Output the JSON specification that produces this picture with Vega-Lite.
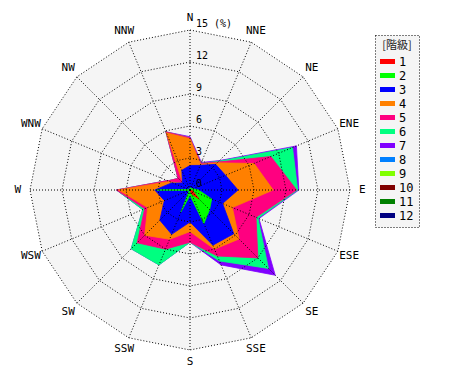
{
  "$schema": "https://vega.github.io/schema/vega-lite/v6.json",
  "width": 470,
  "height": 380,
  "autosize": "none",
  "padding": 0,
  "background": "white",
  "config": {
    "view": {"stroke": null},
    "legend": {
      "orient": "none", "legendX": 375, "legendY": 35, "direction": "vertical",
      "titleFont": "Noto Sans CJK JP", "titleFontSize": 11, "titleFontWeight": "normal", "titleColor": "#222222",
      "titleAnchor": "middle", "titlePadding": 3,
      "labelFont": "DejaVu Sans Mono", "labelFontSize": 12, "labelColor": "#000000", "labelOffset": 4,
      "symbolType": "M-1,-0.33H1V0.33H-1Z", "symbolSize": 225, "symbolStrokeWidth": 0, "symbolOffset": 0,
      "rowPadding": 0, "padding": 5,
      "fillColor": "#f5f5f5", "strokeColor": "#000000", "strokeDash": [1, 2]
    }
  },
  "datasets": {
    "dirs": [
      {"d": 0, "lab": "N", "ring": [0, 3, 6, 9, 12, 15]},
      {"d": 1, "lab": "NNE", "ring": [0, 3, 6, 9, 12, 15]},
      {"d": 2, "lab": "NE", "ring": [0, 3, 6, 9, 12, 15]},
      {"d": 3, "lab": "ENE", "ring": [0, 3, 6, 9, 12, 15]},
      {"d": 4, "lab": "E", "ring": [0, 3, 6, 9, 12, 15]},
      {"d": 5, "lab": "ESE", "ring": [0, 3, 6, 9, 12, 15]},
      {"d": 6, "lab": "SE", "ring": [0, 3, 6, 9, 12, 15]},
      {"d": 7, "lab": "SSE", "ring": [0, 3, 6, 9, 12, 15]},
      {"d": 8, "lab": "S", "ring": [0, 3, 6, 9, 12, 15]},
      {"d": 9, "lab": "SSW", "ring": [0, 3, 6, 9, 12, 15]},
      {"d": 10, "lab": "SW", "ring": [0, 3, 6, 9, 12, 15]},
      {"d": 11, "lab": "WSW", "ring": [0, 3, 6, 9, 12, 15]},
      {"d": 12, "lab": "W", "ring": [0, 3, 6, 9, 12, 15]},
      {"d": 13, "lab": "WNW", "ring": [0, 3, 6, 9, 12, 15]},
      {"d": 14, "lab": "NW", "ring": [0, 3, 6, 9, 12, 15]},
      {"d": 15, "lab": "NNW", "ring": [0, 3, 6, 9, 12, 15]},
      {"d": 16, "lab": "", "ring": [0, 3, 6, 9, 12, 15]}
    ],
    "freq": [
      {"d":0,"c":1,"v":0},{"d":0,"c":2,"v":0.2},{"d":0,"c":3,"v":2.1},{"d":0,"c":4,"v":2.5},{"d":0,"c":5,"v":0.1},{"d":0,"c":6,"v":0},{"d":0,"c":7,"v":0.1},
      {"d":1,"c":1,"v":0},{"d":1,"c":2,"v":0.2},{"d":1,"c":3,"v":2.3},{"d":1,"c":4,"v":0.1},{"d":1,"c":5,"v":0.1},{"d":1,"c":6,"v":0},{"d":1,"c":7,"v":0.1},
      {"d":2,"c":1,"v":0},{"d":2,"c":2,"v":0.2},{"d":2,"c":3,"v":3.2},{"d":2,"c":4,"v":0.2},{"d":2,"c":5,"v":0.1},{"d":2,"c":6,"v":0.1},{"d":2,"c":7,"v":0.1},
      {"d":3,"c":1,"v":0},{"d":3,"c":2,"v":0.3},{"d":3,"c":3,"v":3.3},{"d":3,"c":4,"v":2.9},{"d":3,"c":5,"v":1.7},{"d":3,"c":6,"v":2.2},{"d":3,"c":7,"v":0.4},
      {"d":4,"c":1,"v":0.1},{"d":4,"c":2,"v":0.7},{"d":4,"c":3,"v":3.7},{"d":4,"c":4,"v":3.3},{"d":4,"c":5,"v":2.2},{"d":4,"c":6,"v":0.1},{"d":4,"c":7,"v":0.1},
      {"d":5,"c":1,"v":0.3},{"d":5,"c":2,"v":1.9},{"d":5,"c":3,"v":1.1},{"d":5,"c":4,"v":1.0},{"d":5,"c":5,"v":2.4},{"d":5,"c":6,"v":0.2},{"d":5,"c":7,"v":0.1},
      {"d":6,"c":1,"v":1.2},{"d":6,"c":2,"v":1.4},{"d":6,"c":3,"v":3.2},{"d":6,"c":4,"v":0.7},{"d":6,"c":5,"v":2.5},{"d":6,"c":6,"v":1.4},{"d":6,"c":7,"v":0.9},
      {"d":7,"c":1,"v":0.4},{"d":7,"c":2,"v":3.0},{"d":7,"c":3,"v":2.2},{"d":7,"c":4,"v":0.4},{"d":7,"c":5,"v":0.7},{"d":7,"c":6,"v":0.5},{"d":7,"c":7,"v":0.4},
      {"d":8,"c":1,"v":0},{"d":8,"c":2,"v":0.5},{"d":8,"c":3,"v":2.5},{"d":8,"c":4,"v":0.9},{"d":8,"c":5,"v":1.0},{"d":8,"c":6,"v":0},{"d":8,"c":7,"v":0},
      {"d":9,"c":1,"v":0},{"d":9,"c":2,"v":2.2},{"d":9,"c":3,"v":2.3},{"d":9,"c":4,"v":0.5},{"d":9,"c":5,"v":1.0},{"d":9,"c":6,"v":1.6},{"d":9,"c":7,"v":0},
      {"d":10,"c":1,"v":0},{"d":10,"c":2,"v":0.1},{"d":10,"c":3,"v":3.9},{"d":10,"c":4,"v":2.0},{"d":10,"c":5,"v":1.0},{"d":10,"c":6,"v":0.8},{"d":10,"c":7,"v":0},
      {"d":11,"c":1,"v":0},{"d":11,"c":2,"v":0.1},{"d":11,"c":3,"v":2.5},{"d":11,"c":4,"v":1.7},{"d":11,"c":5,"v":0.3},{"d":11,"c":6,"v":0.2},{"d":11,"c":7,"v":0},
      {"d":12,"c":1,"v":0},{"d":12,"c":2,"v":3.1},{"d":12,"c":3,"v":0.2},{"d":12,"c":4,"v":3.4},{"d":12,"c":5,"v":0.2},{"d":12,"c":6,"v":0},{"d":12,"c":7,"v":0},
      {"d":13,"c":1,"v":0},{"d":13,"c":2,"v":0.1},{"d":13,"c":3,"v":1.7},{"d":13,"c":4,"v":0.3},{"d":13,"c":5,"v":0.2},{"d":13,"c":6,"v":0},{"d":13,"c":7,"v":0},
      {"d":14,"c":1,"v":0},{"d":14,"c":2,"v":0.1},{"d":14,"c":3,"v":0.9},{"d":14,"c":4,"v":0},{"d":14,"c":5,"v":0.6},{"d":14,"c":6,"v":0},{"d":14,"c":7,"v":0},
      {"d":15,"c":1,"v":0},{"d":15,"c":2,"v":0.1},{"d":15,"c":3,"v":1.9},{"d":15,"c":4,"v":3.8},{"d":15,"c":5,"v":0.1},{"d":15,"c":6,"v":0},{"d":15,"c":7,"v":0}
    ]
  },
  "layer": [
    {
      "data": {"name": "dirs"},
      "transform": [
        {"flatten": ["ring"]},
        {"filter": "datum.ring == 15"},
        {"calculate": "datum.ring*sin(datum.d*PI/8)", "as": "x"},
        {"calculate": "datum.ring*cos(datum.d*PI/8)", "as": "y"}
      ],
      "mark": {"type": "line", "filled": true, "fill": "#f5f5f5", "strokeWidth": 0},
      "encoding": {
        "x": {"field": "x", "type": "quantitative", "scale": {"domain": [-17.8125, 26.25], "nice": false, "zero": false}, "axis": null},
        "y": {"field": "y", "type": "quantitative", "scale": {"domain": [-17.8125, 17.8125], "nice": false, "zero": false}, "axis": null},
        "order": {"field": "d"}
      }
    },
    {
      "data": {"name": "freq"},
      "transform": [
        {"window": [{"op": "sum", "field": "v", "as": "cum"}], "groupby": ["d"], "sort": [{"field": "c"}], "frame": [null, 0]},
        {"calculate": "datum.cum*sin(datum.d*PI/8)", "as": "x"},
        {"calculate": "datum.cum*cos(datum.d*PI/8)", "as": "y"},
        {"calculate": "(datum.d + 2) % 16", "as": "o"}
      ],
      "encoding": {
        "x": {"field": "x", "type": "quantitative", "scale": {"domain": [-17.8125, 26.25], "nice": false, "zero": false}, "axis": null},
        "y": {"field": "y", "type": "quantitative", "scale": {"domain": [-17.8125, 17.8125], "nice": false, "zero": false}, "axis": null},
        "order": {"field": "o"},
        "color": {
          "field": "c", "type": "nominal",
          "scale": {"domain": [1,2,3,4,5,6,7,8,9,10,11,12], "range": ["#ff0000","#00ff00","#0000ff","#ff8000","#ff0080","#00ff80","#8000ff","#0080ff","#80ff00","#800000","#008000","#000080"]},
          "legend": {"title": "\u00a0\u00a0\u00a0\u00a0\u00a0[階級]\u00a0\u00a0\u00a0\u00a0\u00a0"}
        },
        "stroke": {
          "field": "c", "type": "nominal",
          "scale": {"domain": [1,2,3,4,5,6,7,8,9,10,11,12], "range": ["#ff0000","#00ff00","#0000ff","#ff8000","#ff0080","#00ff80","#8000ff","#0080ff","#80ff00","#800000","#008000","#000080"]},
          "legend": null
        }
      },
      "layer": [
        {"transform": [{"filter": "datum.c == 7"}], "mark": {"type": "line", "filled": true, "strokeWidth": 0.8}},
        {"transform": [{"filter": "datum.c == 6"}], "mark": {"type": "line", "filled": true, "strokeWidth": 0.8}},
        {"transform": [{"filter": "datum.c == 5"}], "mark": {"type": "line", "filled": true, "strokeWidth": 0.8}},
        {"transform": [{"filter": "datum.c == 4"}], "mark": {"type": "line", "filled": true, "strokeWidth": 0.8}},
        {"transform": [{"filter": "datum.c == 3"}], "mark": {"type": "line", "filled": true, "strokeWidth": 0.8}},
        {"transform": [{"filter": "datum.c == 2"}], "mark": {"type": "line", "filled": true, "strokeWidth": 0.8}},
        {"transform": [{"filter": "datum.c == 1"}], "mark": {"type": "line", "filled": true, "strokeWidth": 0.8}}
      ]
    },
    {
      "data": {"name": "dirs"},
      "transform": [
        {"flatten": ["ring"]},
        {"calculate": "datum.ring*sin(datum.d*PI/8)", "as": "x"},
        {"calculate": "datum.ring*cos(datum.d*PI/8)", "as": "y"},
        {"calculate": "16.15*sin(datum.d*PI/8)", "as": "lx"},
        {"calculate": "16.15*cos(datum.d*PI/8)", "as": "ly"},
        {"calculate": "datum.ring == 15 ? '15 (%)' : '' + datum.ring", "as": "rl"}
      ],
      "layer": [
        {
          "transform": [{"filter": "datum.ring > 0"}],
          "mark": {"type": "line", "stroke": "#000000", "strokeWidth": 1, "strokeDash": [1, 2]},
          "encoding": {
            "x": {"field": "x", "type": "quantitative", "scale": {"domain": [-17.8125, 26.25], "nice": false, "zero": false}, "axis": null},
            "y": {"field": "y", "type": "quantitative", "scale": {"domain": [-17.8125, 17.8125], "nice": false, "zero": false}, "axis": null},
            "detail": {"field": "ring", "type": "nominal"},
            "order": {"field": "d"}
          }
        },
        {
          "transform": [{"filter": "datum.ring == 15 && datum.d < 16"}],
          "mark": {"type": "rule", "stroke": "#000000", "strokeWidth": 1, "strokeDash": [1, 2]},
          "encoding": {
            "x": {"field": "x", "type": "quantitative", "scale": {"domain": [-17.8125, 26.25], "nice": false, "zero": false}, "axis": null},
            "y": {"field": "y", "type": "quantitative", "scale": {"domain": [-17.8125, 17.8125], "nice": false, "zero": false}, "axis": null},
            "x2": {"datum": 0},
            "y2": {"datum": 0}
          }
        },
        {
          "transform": [{"filter": "datum.ring == 15 && datum.d < 16"}],
          "mark": {"type": "text", "font": "DejaVu Sans Mono", "fontSize": 11, "color": "#000000", "align": "center", "baseline": "middle"},
          "encoding": {
            "x": {"field": "lx", "type": "quantitative", "scale": {"domain": [-17.8125, 26.25], "nice": false, "zero": false}, "axis": null},
            "y": {"field": "ly", "type": "quantitative", "scale": {"domain": [-17.8125, 17.8125], "nice": false, "zero": false}, "axis": null},
            "text": {"field": "lab"}
          }
        },
        {
          "transform": [{"filter": "datum.d == 0"}],
          "mark": {"type": "text", "font": "DejaVu Sans Mono", "fontSize": 10, "color": "#000000", "align": "left", "baseline": "bottom", "dx": 6, "dy": -1},
          "encoding": {
            "x": {"field": "x", "type": "quantitative", "scale": {"domain": [-17.8125, 26.25], "nice": false, "zero": false}, "axis": null},
            "y": {"field": "y", "type": "quantitative", "scale": {"domain": [-17.8125, 17.8125], "nice": false, "zero": false}, "axis": null},
            "text": {"field": "rl"}
          }
        }
      ]
    }
  ]
}
